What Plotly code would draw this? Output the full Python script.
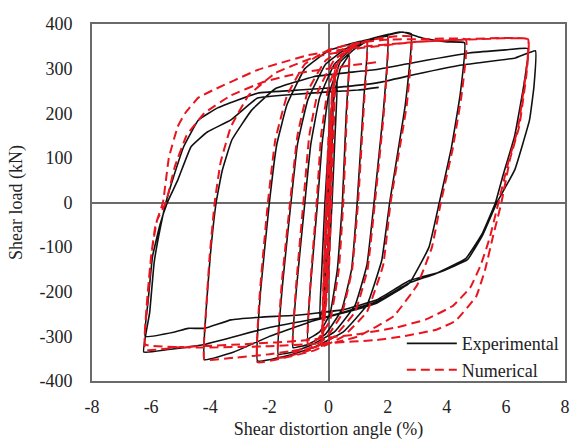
import plotly.graph_objects as go

# ---- Experimental hysteresis path (shear distortion angle %, shear load kN)
exp_x = [0.0,
    0.08, 0.15, 0.10, 0.05, -0.02, -0.15, -0.10, -0.05,
    0.02, 0.15, 0.10, 0.05, -0.03, -0.15, -0.10, -0.05,
    0.05, 0.15, 0.30, 0.22, 0.12, 0.00, -0.15, -0.30, -0.22, -0.12,
    0.00, 0.15, 0.40, 0.70, 0.60, 0.47, 0.30, 0.05, -0.30, -0.70, -0.60, -0.37,
    -0.22, 0.00, 0.40, 0.90, 1.30, 1.18, 0.97, 0.78, 0.45, -0.10, -0.70, -1.20, -1.08, -0.80,
    -0.60, -0.30, 0.20, 0.90, 1.50, 2.00, 1.85, 1.54, 1.30, 0.90, 0.20, -0.60, -1.20, -1.70, -1.55, -1.27,
    -1.05, -0.70, -0.10, 0.60, 1.50, 2.40, 2.80, 2.60, 2.07, 1.80, 1.30, 0.50, -0.50, -1.50, -2.40, -2.30, -2.00,
    -1.75, -1.40, -0.80, 0.00, 1.00, 2.00, 2.50, 3.20, 4.00, 4.60, 4.45, 4.15, 3.75, 3.40, 2.74, 1.64, 0.87, -0.50, -2.00, -3.20, -4.20, -4.15, -4.00, -3.80,
    -3.60, -3.27, -2.60, -1.80, -0.50, 0.50, 1.64, 3.00, 4.75, 6.00, 6.75, 6.60, 6.30, 5.90, 5.65, 5.20, 4.65, 3.60, 2.74, 1.64, 0.00, -2.00, -4.20, -5.50, -6.25, -6.05, -5.90, -5.75, -5.50,
    -5.20, -4.90, -4.40, -3.75, -2.40, -1.00, 0.30, 1.64, 3.00, 4.50, 6.32, 7.00, 6.95, 6.80, 6.30, 5.70, 5.20, 4.70, 3.80, 2.74, 1.64, 0.50, -1.00, -2.30, -3.30, -4.20, -4.75, -5.20, -6.20, -6.10, -5.95, -5.70, -5.45,
    -5.10, -4.65, -4.10, -3.30, -2.40, -1.20, 0.00, 1.00, 1.70]
exp_y = [0,
    120, 200, 90, 0, -100, -200, -90, 0,
    100, 205, 90, 0, -110, -205, -90, 0,
    120, 220, 270, 150, 0, -140, -230, -260, -140, 0,
    130, 230, 300, 330, 200, 0, -150, -250, -290, -305, -180, 0,
    130, 240, 315, 345, 360, 220, 0, -150, -240, -295, -318, -325, -190, 0,
    130, 235, 310, 350, 365, 372, 200, 0, -140, -230, -290, -320, -335, -340, -180, 0,
    130, 230, 310, 345, 368, 382, 378, 220, 0, -130, -230, -290, -325, -345, -355, -200, 0,
    130, 220, 300, 340, 360, 375, 382, 368, 360, 358, 240, 120, 0, -100, -180, -225, -241, -265, -300, -335, -352, -250, -120, 0,
    70, 140, 207, 255, 282, 290, 298, 315, 335, 342, 345, 260, 150, 60, 0, -70, -125, -160, -180, -222, -255, -280, -318, -330, -335, -247, -136, -77, 0,
    66, 125, 185, 212, 245, 252, 258, 268, 288, 308, 324, 340, 260, 185, 73, 0, -75, -128, -155, -175, -218, -240, -252, -257, -263, -282, -282, -290, -300, -220, -120, -50, 0,
    50, 125, 158, 185, 234, 242, 248, 252, 258]

# ---- Numerical hysteresis path
num_x = [0.0,
    0.05, 0.12, 0.08, 0.03, -0.03, -0.12, -0.08, -0.03,
    0.04, 0.13, 0.09, 0.04, -0.02, -0.13, -0.09, -0.04,
    0.05, 0.22, 0.16, 0.08, 0.00, -0.22, -0.16, -0.08,
    0.06, 0.23, 0.17, 0.09, 0.01, -0.21, -0.15, -0.07,
    0.00, 0.20, 0.45, 0.70, 0.62, 0.50, 0.35, 0.05, -0.35, -0.70, -0.60, -0.40,
    -0.25, 0.00, 0.40, 0.90, 1.30, 1.20, 1.00, 0.80, 0.45, -0.10, -0.70, -1.20, -1.10, -0.85,
    -0.65, -0.35, 0.20, 0.90, 1.50, 2.00, 1.87, 1.57, 1.32, 0.90, 0.20, -0.60, -1.20, -1.70, -1.58, -1.30,
    -1.05, -0.70, -0.10, 0.60, 1.50, 2.20, 2.80, 2.65, 2.10, 1.85, 1.30, 0.50, -0.50, -1.50, -2.40, -2.32, -2.05,
    -1.80, -1.40, -0.80, 0.00, 1.00, 2.00, 3.20, 4.65, 4.50, 4.20, 3.80, 3.50, 3.00, 2.20, 1.00, -0.50, -2.00, -3.20, -4.20, -4.15, -4.02, -3.85,
    -3.65, -3.30, -2.70, -1.80, -0.50, 1.00, 3.00, 5.00, 6.75, 6.70, 6.40, 6.10, 5.75, 5.45, 5.15, 4.80, 4.20, 3.30, 2.30, 1.00, -1.00, -3.00, -5.00, -6.20, -6.15, -6.00, -5.85, -5.60,
    -5.40, -5.10, -4.85, -4.40, -3.90, -2.40, -0.70, 1.00, 3.00, 6.75, 6.70, 6.45, 6.15, 5.85, 5.55, 5.30, 5.00, 4.30, 3.65, 2.50, 1.64, 0.00, -2.00, -4.20, -6.20, -6.12, -5.98, -5.80, -5.50,
    -5.20, -4.80, -4.20, -3.30, -2.20, -1.00, 0.50, 1.70]
num_y = [0,
    150, 250, 120, 0, -130, -250, -120, 0,
    140, 260, 120, 0, -140, -260, -120, 0,
    170, 300, 150, 0, -150, -300, -150, 0,
    175, 310, 150, 0, -160, -310, -150, 0,
    150, 270, 330, 345, 200, 0, -150, -265, -305, -318, -170, 0,
    150, 260, 325, 352, 362, 220, 0, -150, -250, -305, -328, -335, -190, 0,
    150, 250, 320, 352, 365, 370, 200, 0, -150, -245, -300, -330, -342, -348, -180, 0,
    150, 250, 318, 348, 365, 372, 372, 220, 0, -140, -245, -300, -332, -348, -358, -200, 0,
    140, 240, 310, 342, 358, 365, 366, 365, 240, 120, 0, -100, -185, -255, -300, -325, -340, -348, -352, -250, -120, 0,
    90, 170, 240, 290, 325, 345, 360, 366, 366, 300, 163, 95, 0, -80, -140, -190, -232, -262, -280, -295, -310, -318, -324, -330, -230, -120, -50, 0,
    100, 170, 200, 235, 252, 297, 330, 348, 360, 366, 290, 170, 100, 0, -80, -150, -210, -265, -285, -300, -308, -315, -322, -325, -318, -220, -110, -40, 0,
    80, 150, 200, 240, 270, 290, 305, 315]

x_tick_vals = [-8, -6, -4, -2, 0, 2, 4, 6, 8]
x_tick_text = ["-8", "-6", "-4", "-2", "0", "2", "4", "6", "8"]
y_tick_vals = [-400, -300, -200, -100, 0, 100, 200, 300, 400]
y_tick_text = ["-400", "-300", "-200", "-100", "0", "100", "200", "300", "400"]

FONT = "Liberation Serif, Times New Roman, serif"
AXIS_GRAY = "#6a6a6a"
TXT = "#222222"

fig = go.Figure()
fig.add_trace(go.Scatter(
    x=exp_x, y=exp_y, mode="lines", name="Experimental",
    line=dict(color="#111111", width=1.6, shape="spline", smoothing=0.3),
))
fig.add_trace(go.Scatter(
    x=num_x, y=num_y, mode="lines", name="Numerical",
    line=dict(color="#e8141e", width=2, dash="9px,5px", shape="spline", smoothing=0.3),
))

fig.update_layout(
    width=575, height=441,
    margin=dict(l=92, r=5, t=24, b=60),
    paper_bgcolor="white", plot_bgcolor="white",
    font=dict(family=FONT, size=18, color=TXT),
    showlegend=True,
    legend=dict(
        x=0.655, y=-0.02, xanchor="left", yanchor="bottom",
        bgcolor="rgba(255,255,255,0)", borderwidth=0,
        font=dict(family=FONT, size=18, color=TXT),
        itemwidth=50, tracegroupgap=0,
    ),
)
fig.update_xaxes(
    range=[-8, 8], tickvals=x_tick_vals, ticktext=x_tick_text,
    showgrid=False, zeroline=True, zerolinecolor=AXIS_GRAY, zerolinewidth=1.6,
    showline=True, mirror=True, linecolor=AXIS_GRAY, linewidth=2,
    ticks="", ticklabelstandoff=8,
    title=dict(text="Shear distortion angle (%)", standoff=7,
               font=dict(family=FONT, size=18, color=TXT)),
)
fig.update_yaxes(
    range=[-400, 400], tickvals=y_tick_vals, ticktext=y_tick_text,
    showgrid=False, zeroline=True, zerolinecolor=AXIS_GRAY, zerolinewidth=1.6,
    showline=True, mirror=True, linecolor=AXIS_GRAY, linewidth=2,
    ticks="", ticklabelstandoff=14,
    title=dict(text="Shear load (kN)", standoff=12,
               font=dict(family=FONT, size=18, color=TXT)),
)

fig.write_html("out.html")
